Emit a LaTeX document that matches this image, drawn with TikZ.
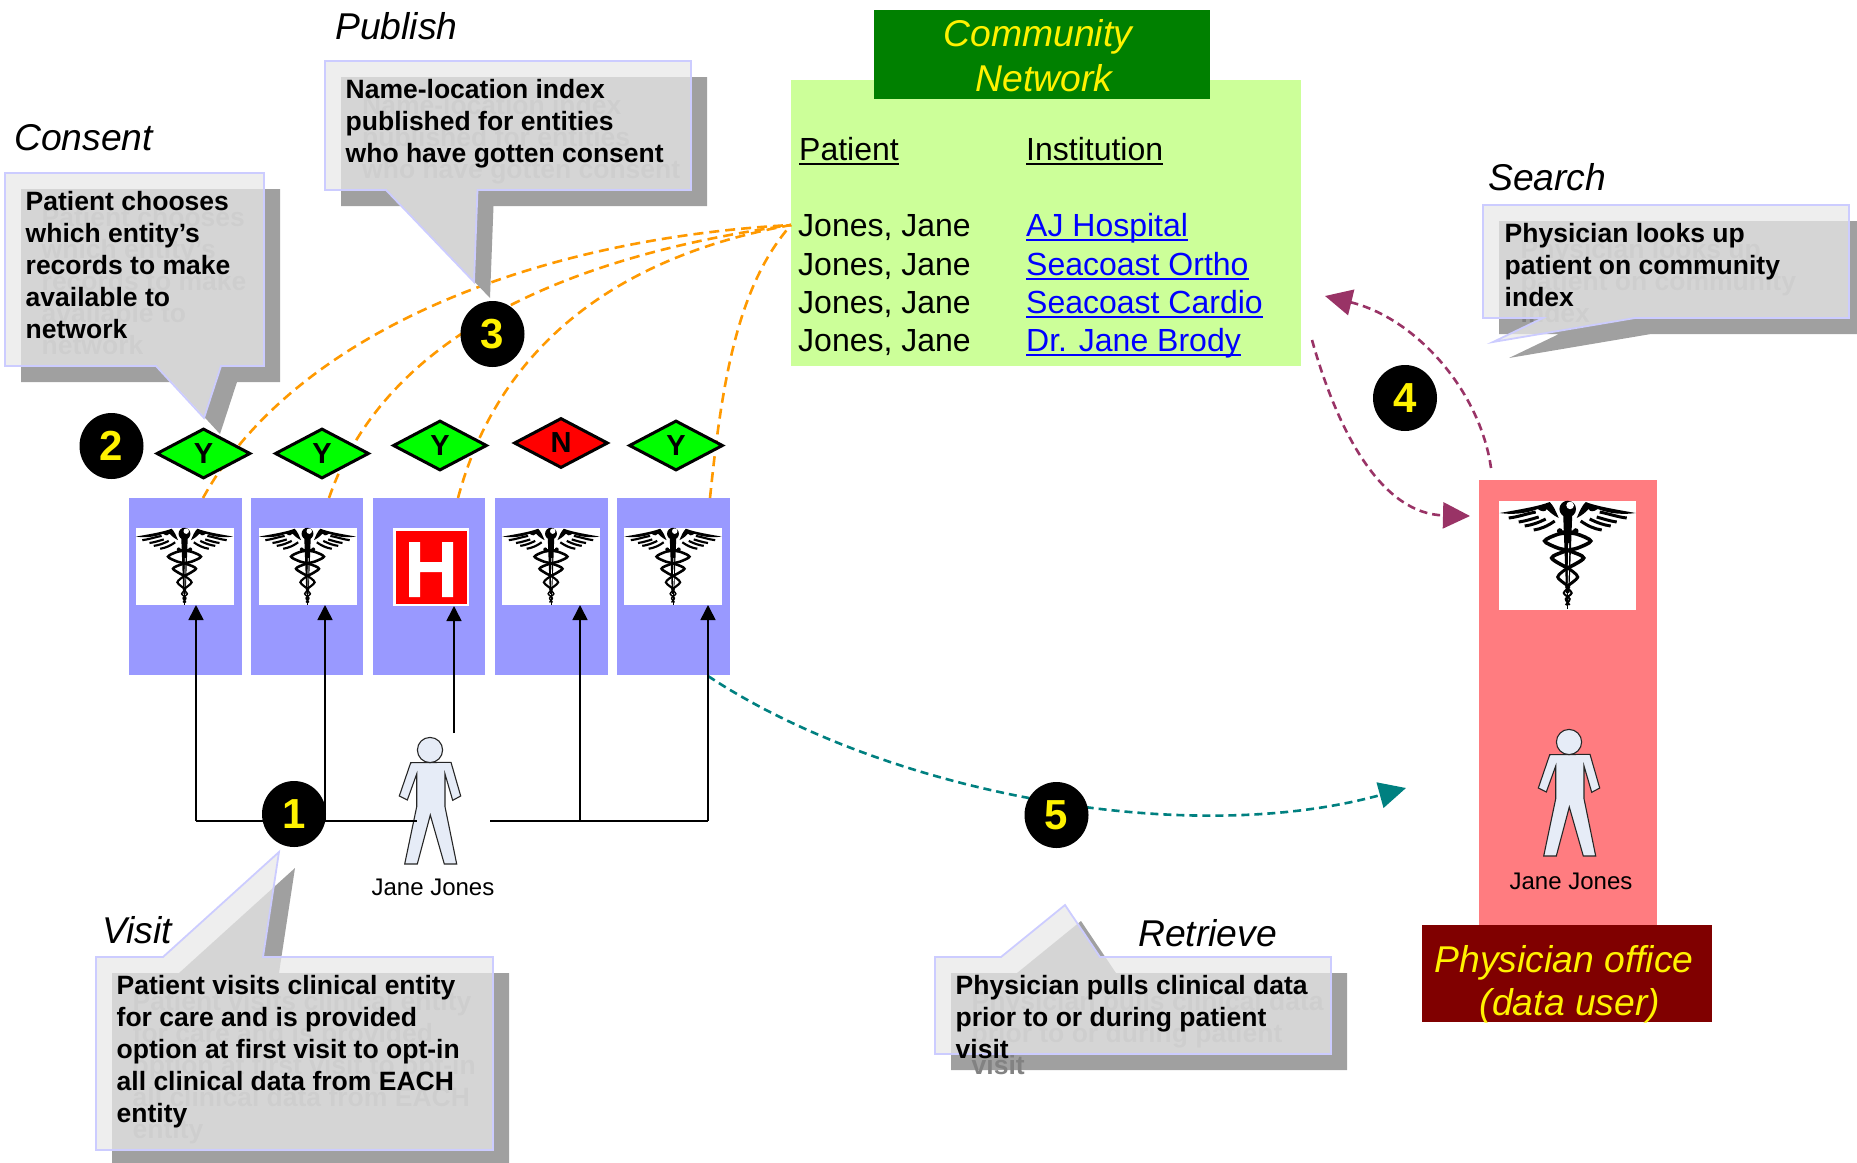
\documentclass[tikz,border=0pt]{standalone}
\usepackage{fontspec}
\setmainfont{Liberation Sans}
\usetikzlibrary{shapes.geometric,arrows.meta}
\definecolor{lightnet}{HTML}{CCFF99}
\definecolor{darknet}{HTML}{008000}
\definecolor{entity}{HTML}{9999FF}
\definecolor{officebg}{HTML}{FF7C80}
\definecolor{officehd}{HTML}{800000}
\definecolor{shadowgrey}{HTML}{A0A0A0}
\definecolor{ghostgrey}{HTML}{828282}
\definecolor{callfill}{HTML}{E8E8E8}
\definecolor{callline}{HTML}{CCCCFF}
\definecolor{persona}{HTML}{E6ECF7}
\definecolor{orangeline}{HTML}{FF9900}
\definecolor{plumline}{HTML}{993366}
\definecolor{tealline}{HTML}{008080}
\tikzset{
  rectbox/.style={inner sep=0pt,outer sep=0pt,draw=none},
  shadowpoly/.style={fill=shadowgrey},
  callpoly/.style={fill=callfill,fill opacity=.75,draw=callline,line width=1.8pt,line join=miter},
  calltext/.style={anchor=north west,inner sep=0pt,align=left,font=\fontsize{26.5}{32}\selectfont\bfseries},
  ghost/.style={calltext,text=ghostgrey},
  steptitle/.style={anchor=base west,inner sep=0pt,font=\fontsize{37.3}{40}\selectfont\itshape},
  nettext/.style={anchor=base west,inner sep=0pt,font=\fontsize{32}{38}\selectfont},
  yellowtitle/.style={anchor=base,inner sep=0pt,text=yellow,font=\fontsize{37.3}{40}\selectfont\itshape},
  numdot/.style={ellipse,fill=black,inner sep=0pt,minimum width=64pt,minimum height=66pt,text=yellow,font=\fontsize{42}{44}\selectfont\bfseries},
  opt/.style={diamond,draw=black,line width=3pt,inner sep=0pt,aspect=1.9,minimum width=94pt,minimum height=50pt,font=\fontsize{29}{30}\selectfont\bfseries},
  personname/.style={anchor=base,inner sep=0pt,font=\fontsize{24}{26}\selectfont},
  orangecurve/.style={draw=orangeline,line width=2.6pt,dash pattern=on 10pt off 6pt},
  bigcurve/.style={line width=2.6pt,dash pattern=on 8pt off 5pt,-{Triangle[length=27pt,width=26pt]}},
  visitarrow/.style={draw=black,line width=1.6pt,-{Triangle[length=15pt,width=15pt]}},
  visitline/.style={draw=black,line width=1.6pt}
}
\newcommand\rectnode[6]{\node[rectbox,fill=#6,minimum width={(#4-#2)*1pt},minimum height={(#5-#3)*1pt}] (#1) at ({(#2+#4)/2},{(#3+#5)/2}) {};}
\newcommand\ulx[1]{\setbox0\hbox{#1}\rlap{\rule[-4.5pt]{\wd0}{2pt}}\box0}
\newcommand\cadwing{%
  \fill (-9,17) .. controls (-12,10) and (-14,5) .. (-18,1) .. controls (-28,5) and (-45,8) .. (-68,12) .. controls (-50,14.5) and (-38,11) .. (-30,8) .. controls (-26,11) and (-22,11) .. (-21,8) .. controls (-18,11) and (-15,14) .. cycle;
  \draw[line width=\cs*3pt] (-59,17) .. controls (-50,16) and (-42,13) .. (-32,11);
  \draw[line width=\cs*3pt] (-49,21) .. controls (-42,20) and (-36,18) .. (-29,16);
  \draw[line width=\cs*3pt] (-43,25) .. controls (-36,24) and (-30,22) .. (-22,18);
  \draw[line width=\cs*3pt] (-34,29) .. controls (-27,28) and (-20,25) .. (-13,20);
}
\newcommand\cadsnake{%
  \draw[line width=\cs*3.6pt] plot[smooth] coordinates {(8,31) (-9,33) (-23,40) (-10,47) (2,50) (16,57) (0,67)};
  \draw[line width=\cs*3pt] plot[smooth] coordinates {(0,67) (-10,76) (2,86)};
  \draw[line width=\cs*2pt] plot[smooth] coordinates {(2,86) (-4,92) (2,98) (-2,104)};
  \fill (8,30) circle[radius=2.8];
}
\newcommand\caduceus[3]{\def\cs{#3}%
  \begin{scope}[shift={(#1,#2)},scale=#3,black]
    \cadwing
    \begin{scope}[xscale=-1]\cadwing\end{scope}
    \fill (-4.5,14) -- (4.5,14) -- (1.6,92) -- (-1.6,92) -- cycle;
    \draw[white,line width=\cs*.9pt] (1,42) -- (.4,88);
    \draw[line width=\cs*1pt] (0,90) -- (0,108);
    \cadsnake
    \begin{scope}[xscale=-1]\cadsnake\end{scope}
    \fill (0,8) circle[radius=8.3];
    \fill[white] (2.4,4.4) circle[radius=3.8];
  \end{scope}}
\newcommand\person[2]{%
  \begin{scope}[shift={(#1,#2)}]
    \draw[fill=persona,draw=black!85,line width=1.1pt] (-19.3,12.7) -- (21,12.3) -- (30.7,46) -- (22.7,50.3) -- (15,24) -- (15,56.7) -- (26.7,114) -- (14.3,114) -- (.3,65) -- (-12.7,114) -- (-25.3,114) -- (-13.3,56.7) -- (-13.3,24) -- (-22.7,50) -- (-30.7,46) -- cycle;
    \draw[fill=persona,draw=black!85,line width=1.1pt] (0,0) circle[radius=12.6];
  \end{scope}}
\begin{document}
\begin{tikzpicture}[x=1pt,y=-1pt]
\useasboundingbox (0,0) rectangle (1857,1162);

% community network panel
\rectnode{net}{791}{80}{1301}{366}{lightnet}
\rectnode{nethead}{874}{10}{1210}{98.5}{darknet}
\node[yellowtitle] (nt1) at (1038,46) {Community};
\node[yellowtitle] (nt2) at (1044,91) {Network};
\node[nettext] (hp) at (799,160) {\ulx{Patient}};
\node[nettext] (hi) at (1026,160) {\ulx{Institution}};
\node[nettext] (p1) at (798,236) {Jones, Jane};
\node[nettext] (p2) at (798,275) {Jones, Jane};
\node[nettext] (p3) at (798,313) {Jones, Jane};
\node[nettext] (p4) at (798,351) {Jones, Jane};
\node[nettext,text=blue] (i1) at (1026,236) {\ulx{AJ Hospital}};
\node[nettext,text=blue] (i2) at (1026,275) {\ulx{Seacoast Ortho}};
\node[nettext,text=blue] (i3) at (1026,313) {\ulx{Seacoast Cardio}};
\node[nettext,text=blue] (i4) at (1026,351) {\ulx{Dr. Jane Brody}};

% entity columns
\rectnode{e1}{129}{498}{242}{675}{entity}
\rectnode{e2}{251}{498}{363}{675}{entity}
\rectnode{e3}{373}{498}{485}{675}{entity}
\rectnode{e4}{495}{498}{607.5}{675}{entity}
\rectnode{e5}{617}{498}{730}{675}{entity}
\rectnode{img1}{136}{528}{234}{605}{white}
\rectnode{img2}{259}{528}{357}{605}{white}
\rectnode{img3}{393}{528}{469}{606}{white}
\rectnode{img4}{502}{528}{600}{605}{white}
\rectnode{img5}{624}{528}{722}{605}{white}
\caduceus{184.5}{528}{.715}
\caduceus{307.5}{528}{.715}
\caduceus{551}{528}{.715}
\caduceus{673}{528}{.715}
\fill[red] (396,531) rectangle (467,604);
\fill[white] (409,542) rectangle (420,597) (442,542) rectangle (453,597) (420,562) rectangle (442,572);

% office column
\rectnode{office}{1479}{480}{1657}{925}{officebg}
\rectnode{officehead}{1422}{925}{1712}{1022}{officehd}
\rectnode{img6}{1499}{501}{1636}{610}{white}
\caduceus{1567.7}{501}{1}
\node[yellowtitle] (o1) at (1564,972) {Physician office};
\node[yellowtitle] (o2) at (1570,1015) {(data user)};

% anchors of the curves
\coordinate (netL) at (791,225);
\coordinate (top1) at (203,498);
\coordinate (top2) at (329,498);
\coordinate (top3) at (458,498);
\coordinate (top5) at (710,498);
\coordinate (ofA) at (1491,468);
\coordinate (netA) at (1325,296);
\coordinate (netB) at (1312,340);
\coordinate (ofB) at (1470,516);
\coordinate (e5c) at (708,676);
\coordinate (ofC) at (1406,788);

% publish curves
\draw[orangecurve] (top1) .. controls (290,340) and (520,240) .. (netL);
\draw[orangecurve] (top2) .. controls (380,350) and (540,260) .. (netL);
\draw[orangecurve] (top3) .. controls (495,360) and (600,260) .. (netL);
\draw[orangecurve] (top5) .. controls (722,380) and (738,285) .. (netL);

% search / retrieve curves
\draw[bigcurve,plumline] (ofA) .. controls (1480,390) and (1415,318) .. (netA);
\draw[bigcurve,plumline] (netB) .. controls (1340,440) and (1385,514) .. (ofB);
\draw[bigcurve,tealline] (e5c) .. controls (880,790) and (1180,850) .. (ofC);

% persons
\person{430}{750}
\person{1569}{742}
\node[personname] (jj1) at (433,895) {Jane Jones};
\node[personname] (jj2) at (1571,889) {Jane Jones};

% visit arrows
\coordinate (j1) at (196,821);
\coordinate (j2) at (325,821);
\coordinate (j3) at (454,733);
\coordinate (pl) at (417,821);
\coordinate (pr) at (490,821);
\coordinate (j4) at (580,821);
\coordinate (j5) at (708,821);
\draw[visitline] (j1) -- (pl);
\draw[visitline] (pr) -- (j5);
\draw[visitarrow] (j1) -- (j1 |- img1.south);
\draw[visitarrow] (j2) -- (j2 |- img2.south);
\draw[visitarrow] (j3) -- (j3 |- img3.south);
\draw[visitarrow] (j4) -- (j4 |- img4.south);
\draw[visitarrow] (j5) -- (j5 |- img5.south);

% consent callout
\fill[shadowpoly] (21,189) -- (280,189) -- (280,382) -- (237,382) -- (220,434) -- (172,382) -- (21,382) -- cycle;
\node[ghost] (g2) at (41.5,203.6) {\strut Patient chooses\\which entity’s\\records to make\\available to\\network};
\draw[callpoly] (5,173) -- (264,173) -- (264,366) -- (221,366) -- (204,418) -- (156,366) -- (5,366) -- cycle;
\node[calltext] (t2) at (25.5,187.6) {\strut Patient chooses\\which entity’s\\records to make\\available to\\network};
\node[steptitle] (s2) at (14,150.5) {Consent};

% publish callout
\fill[shadowpoly] (341,77) -- (707,77) -- (707,206) -- (493.5,206) -- (490,298) -- (402,206) -- (341,206) -- cycle;
\node[ghost] (g3) at (362,91.6) {\strut Name-location index\\published for entities\\who have gotten consent};
\draw[callpoly] (325,61) -- (691,61) -- (691,190) -- (477.5,190) -- (474,282) -- (386,190) -- (325,190) -- cycle;
\node[calltext] (t3) at (345.5,75.6) {\strut Name-location index\\published for entities\\who have gotten consent};
\node[steptitle] (s3) at (335,39) {Publish};

% search callout
\fill[shadowpoly] (1499,221) -- (1865,221) -- (1865,334) -- (1651,334) -- (1509,358) -- (1559,334) -- (1499,334) -- cycle;
\node[ghost] (g4) at (1520.5,235.6) {\strut Physician looks up\\patient on community\\index};
\draw[callpoly] (1483,205) -- (1849,205) -- (1849,318) -- (1635,318) -- (1493,342) -- (1543,318) -- (1483,318) -- cycle;
\node[calltext] (t4) at (1504.5,219.6) {\strut Physician looks up\\patient on community\\index};
\node[steptitle] (s4) at (1488,190.5) {Search};

% visit callout
\fill[shadowpoly] (112,973) -- (179,973) -- (295,868) -- (279,973) -- (509,973) -- (509,1166) -- (112,1166) -- cycle;
\node[ghost] (g1) at (132.5,987.6) {\strut Patient visits clinical entity\\for care and is provided\\option at first visit to opt-in\\all clinical data from EACH\\entity};
\draw[callpoly] (96,957) -- (163,957) -- (279,852) -- (263,957) -- (493,957) -- (493,1150) -- (96,1150) -- cycle;
\node[calltext] (t1) at (116.5,971.6) {\strut Patient visits clinical entity\\for care and is provided\\option at first visit to opt-in\\all clinical data from EACH\\entity};
\node[steptitle] (s1) at (102,943) {Visit};

% retrieve callout
\fill[shadowpoly] (951,973) -- (1017,973) -- (1081,921) -- (1116,973) -- (1347,973) -- (1347,1070) -- (951,1070) -- cycle;
\node[ghost] (g5) at (971.5,987.6) {\strut Physician pulls clinical data\\prior to or during patient\\visit};
\draw[callpoly] (935,957) -- (1001,957) -- (1065,905) -- (1100,957) -- (1331,957) -- (1331,1054) -- (935,1054) -- cycle;
\node[calltext] (t5) at (955.5,971.6) {\strut Physician pulls clinical data\\prior to or during patient\\visit};
\node[steptitle] (s5) at (1138,946) {Retrieve};

% consent flags
\node[opt,fill=green] (d1) at (203.5,453.5) {Y};
\node[opt,fill=green] (d2) at (322,453.5) {Y};
\node[opt,fill=green] (d3) at (440,445.5) {Y};
\node[opt,fill=red] (d4) at (561,443) {N};
\node[opt,fill=green] (d5) at (676,445.5) {Y};

% step numbers
\node[numdot] (n1) at (294,814) {1};
\node[numdot] (n2) at (111.5,446) {2};
\node[numdot] (n3) at (492.5,334) {3};
\node[numdot] (n4) at (1405,398) {4};
\node[numdot] (n5) at (1056.5,815) {5};
\end{tikzpicture}
\end{document}
